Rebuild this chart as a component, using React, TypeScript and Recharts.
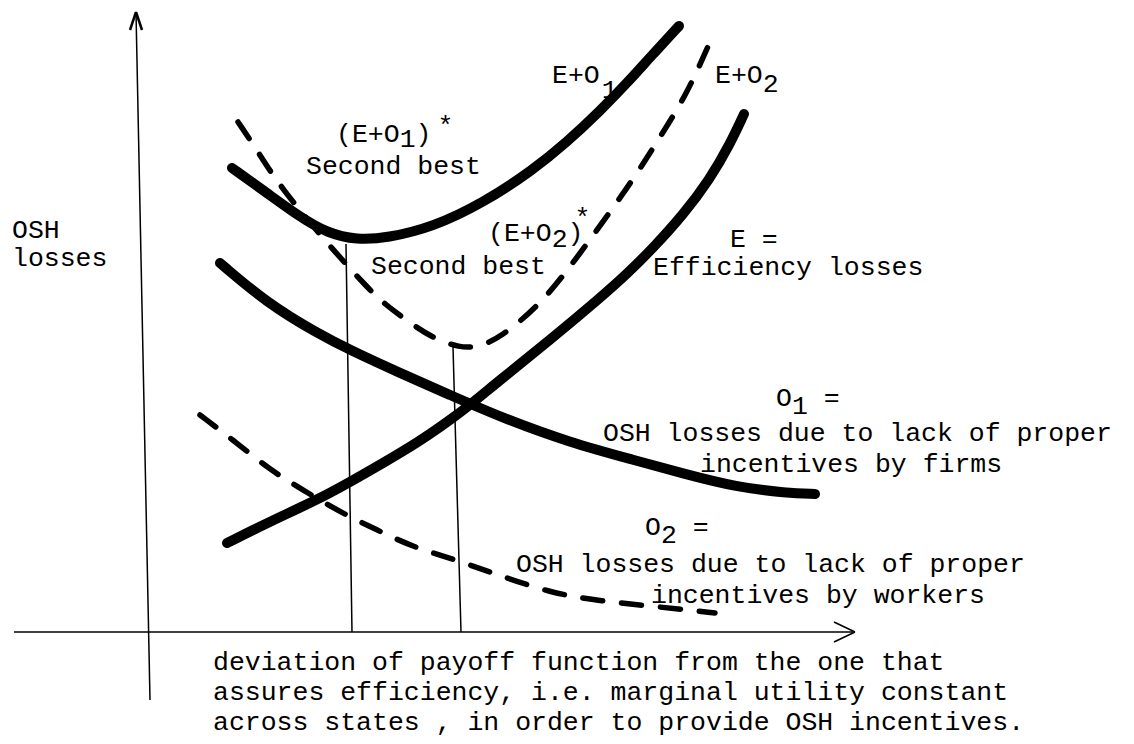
import React from 'react';
import { ComposedChart, Line, XAxis, YAxis, ReferenceLine } from 'recharts';

// curve points: x = deviation, y = losses (origin at axes crossing)
const eo1Points = [
  { x: 8.4, y: 46.4 }, { x: 11.9, y: 43.9 }, { x: 15.2, y: 41.5 }, { x: 17.9, y: 39.9 },
  { x: 20.9, y: 39.2 }, { x: 23.9, y: 39.4 }, { x: 28.5, y: 40.5 }, { x: 33.5, y: 42.9 },
  { x: 38.5, y: 46.2 }, { x: 41.9, y: 49.0 }, { x: 45.2, y: 52.1 }, { x: 48.0, y: 55.0 },
  { x: 50.5, y: 57.8 }, { x: 53.1, y: 60.6 },
];

const eo2Points = [
  { x: 9.0, y: 51.0 }, { x: 10.9, y: 48.2 }, { x: 13.2, y: 44.5 }, { x: 18.5, y: 38.2 },
  { x: 21.9, y: 34.5 }, { x: 23.5, y: 32.9 }, { x: 26.5, y: 30.7 }, { x: 28.5, y: 29.4 },
  { x: 31.2, y: 28.4 }, { x: 33.0, y: 28.5 }, { x: 35.2, y: 29.4 }, { x: 39.2, y: 32.7 },
  { x: 42.5, y: 36.9 }, { x: 44.9, y: 40.2 }, { x: 48.5, y: 45.2 }, { x: 51.2, y: 49.5 },
  { x: 53.9, y: 53.8 }, { x: 56.2, y: 59.0 },
];

const ePoints = [
  { x: 7.9, y: 8.9 }, { x: 11.9, y: 10.9 }, { x: 16.9, y: 13.2 }, { x: 20.2, y: 15.0 },
  { x: 23.5, y: 16.9 }, { x: 26.9, y: 18.9 }, { x: 30.2, y: 21.2 }, { x: 32.2, y: 22.7 },
  { x: 35.2, y: 25.2 }, { x: 40.2, y: 29.2 }, { x: 45.2, y: 33.4 }, { x: 47.9, y: 35.8 },
  { x: 50.5, y: 38.4 }, { x: 53.5, y: 41.7 }, { x: 56.2, y: 45.3 }, { x: 58.2, y: 48.8 },
  { x: 59.6, y: 51.8 },
];

const o1Points = [
  { x: 7.2, y: 36.9 }, { x: 11.9, y: 32.9 }, { x: 16.9, y: 29.9 }, { x: 20.2, y: 28.2 },
  { x: 25.2, y: 25.9 }, { x: 30.2, y: 23.7 }, { x: 35.2, y: 21.5 }, { x: 42.3, y: 18.9 },
  { x: 48.6, y: 17.2 }, { x: 53.7, y: 15.8 }, { x: 58.8, y: 14.5 }, { x: 63.9, y: 13.9 },
  { x: 66.7, y: 13.8 },
];

const o2Points = [
  { x: 5.2, y: 21.7 }, { x: 8.9, y: 18.9 }, { x: 12.2, y: 16.2 }, { x: 15.5, y: 14.2 },
  { x: 19.2, y: 12.0 }, { x: 22.9, y: 10.2 }, { x: 26.5, y: 8.5 }, { x: 30.2, y: 7.4 },
  { x: 34.5, y: 5.9 }, { x: 40.2, y: 3.9 }, { x: 45.2, y: 3.1 }, { x: 51.2, y: 2.5 },
  { x: 56.7, y: 1.9 },
];

// second best drop lines (top point on the curve, foot on the axis)
const dropLines = [
  [{ x: 19.8, y: 38.8 }, { x: 20.4, y: 0 }],
  [{ x: 30.5, y: 28.5 }, { x: 31.3, y: 0 }],
];

const xAxisLine = [{ x: -13.4, y: 0 }, { x: 70.7, y: 0 }];
const yAxisLine = [{ x: -1.2, y: 62.0 }, { x: 0.2, y: -6.8 }];
const xArrow = [
  [{ x: 68.6, y: 1.0 }, { x: 70.7, y: 0 }],
  [{ x: 68.6, y: -1.0 }, { x: 70.7, y: 0 }],
];
const yArrow = [
  [{ x: -1.8, y: 60.2 }, { x: -1.2, y: 62.0 }],
  [{ x: -0.6, y: 60.2 }, { x: -1.2, y: 62.0 }],
];

const bottomText = [
  'deviation of payoff function from the one that',
  'assures efficiency, i.e. marginal utility constant',
  'across states , in order to provide OSH incentives.',
];

const W = 1134;
const H = 744;
const font = '"Liberation Mono", "DejaVu Sans Mono", monospace';

const App: React.FC = () => {
  const thick = { stroke: '#000', strokeWidth: 10, strokeLinecap: 'round' as const };
  const dashed = { stroke: '#000', strokeWidth: 5.5, strokeDasharray: '20 19', strokeLinecap: 'round' as const };
  const thin = { stroke: '#000', strokeWidth: 1.5 };

  return (
    <div style={{ position: 'absolute', left: 0, top: 0, width: W, height: H, background: '#fff' }}>
      <ComposedChart width={W} height={H} margin={{ top: 0, right: 0, bottom: 0, left: 0 }}>
        <XAxis type="number" dataKey="x" domain={[-14.8, 98.6]} hide allowDataOverflow />
        <YAxis type="number" dataKey="y" domain={[-11.2, 63.2]} hide allowDataOverflow />

        <ReferenceLine segment={xAxisLine} {...thin} />
        <ReferenceLine segment={yAxisLine} {...thin} />
        {xArrow.map((s, i) => (
          <ReferenceLine key={`xa-${i}`} segment={s} {...thin} />
        ))}
        {yArrow.map((s, i) => (
          <ReferenceLine key={`ya-${i}`} segment={s} stroke="#000" strokeWidth={2.5} />
        ))}
        {dropLines.map((s, i) => (
          <ReferenceLine key={`drop-${i}`} segment={s} {...thin} />
        ))}

        <Line data={eo1Points} dataKey="y" type="basis" dot={false} activeDot={false} isAnimationActive={false} {...thick} />
        <Line data={eo2Points} dataKey="y" type="basis" dot={false} activeDot={false} isAnimationActive={false} {...dashed} />
        <Line data={ePoints} dataKey="y" type="basis" dot={false} activeDot={false} isAnimationActive={false} {...thick} />
        <Line data={o1Points} dataKey="y" type="basis" dot={false} activeDot={false} isAnimationActive={false} {...thick} />
        <Line data={o2Points} dataKey="y" type="basis" dot={false} activeDot={false} isAnimationActive={false} {...dashed} />
      </ComposedChart>

      <svg
        width={W}
        height={H}
        style={{ position: 'absolute', left: 0, top: 0, pointerEvents: 'none' }}
        fontFamily={font}
        fontSize={26.5}
        fill="#000"
      >
        <text x={12} y={238}>OSH</text>
        <text x={12} y={266}>losses</text>

        <text x={552} y={83}>E+O<tspan dx={2} dy={15}>1</tspan></text>
        <text x={715} y={83}>E+O<tspan dy={9}>2</tspan></text>

        <text x={336} y={142}>
          (E+O<tspan dy={5}>1</tspan><tspan dy={-5}>)</tspan><tspan dx={6} dy={-8}>*</tspan>
        </text>
        <text x={306} y={174}>Second best</text>

        <text x={488} y={241}>
          (E+O<tspan dy={6}>2</tspan><tspan dy={-6}>)</tspan><tspan dx={-9} dy={-15}>*</tspan>
        </text>
        <text x={371} y={274}>Second best</text>

        <text x={730} y={247}>E =</text>
        <text x={653} y={275}>Efficiency losses</text>

        <text x={776} y={406}>O<tspan dy={8}>1</tspan><tspan dy={-8}> =</tspan></text>
        <text x={603} y={441}>OSH losses due to lack of proper</text>
        <text x={700} y={472}>incentives by firms</text>

        <text x={645} y={535}>O<tspan dy={8}>2</tspan><tspan dy={-8}> =</tspan></text>
        <text x={516} y={572}>OSH losses due to lack of proper</text>
        <text x={651} y={603}>incentives by workers</text>

        {bottomText.map((t, i) => (
          <text key={i} x={213} y={670 + i * 30}>{t}</text>
        ))}
      </svg>
    </div>
  );
};

export default App;
